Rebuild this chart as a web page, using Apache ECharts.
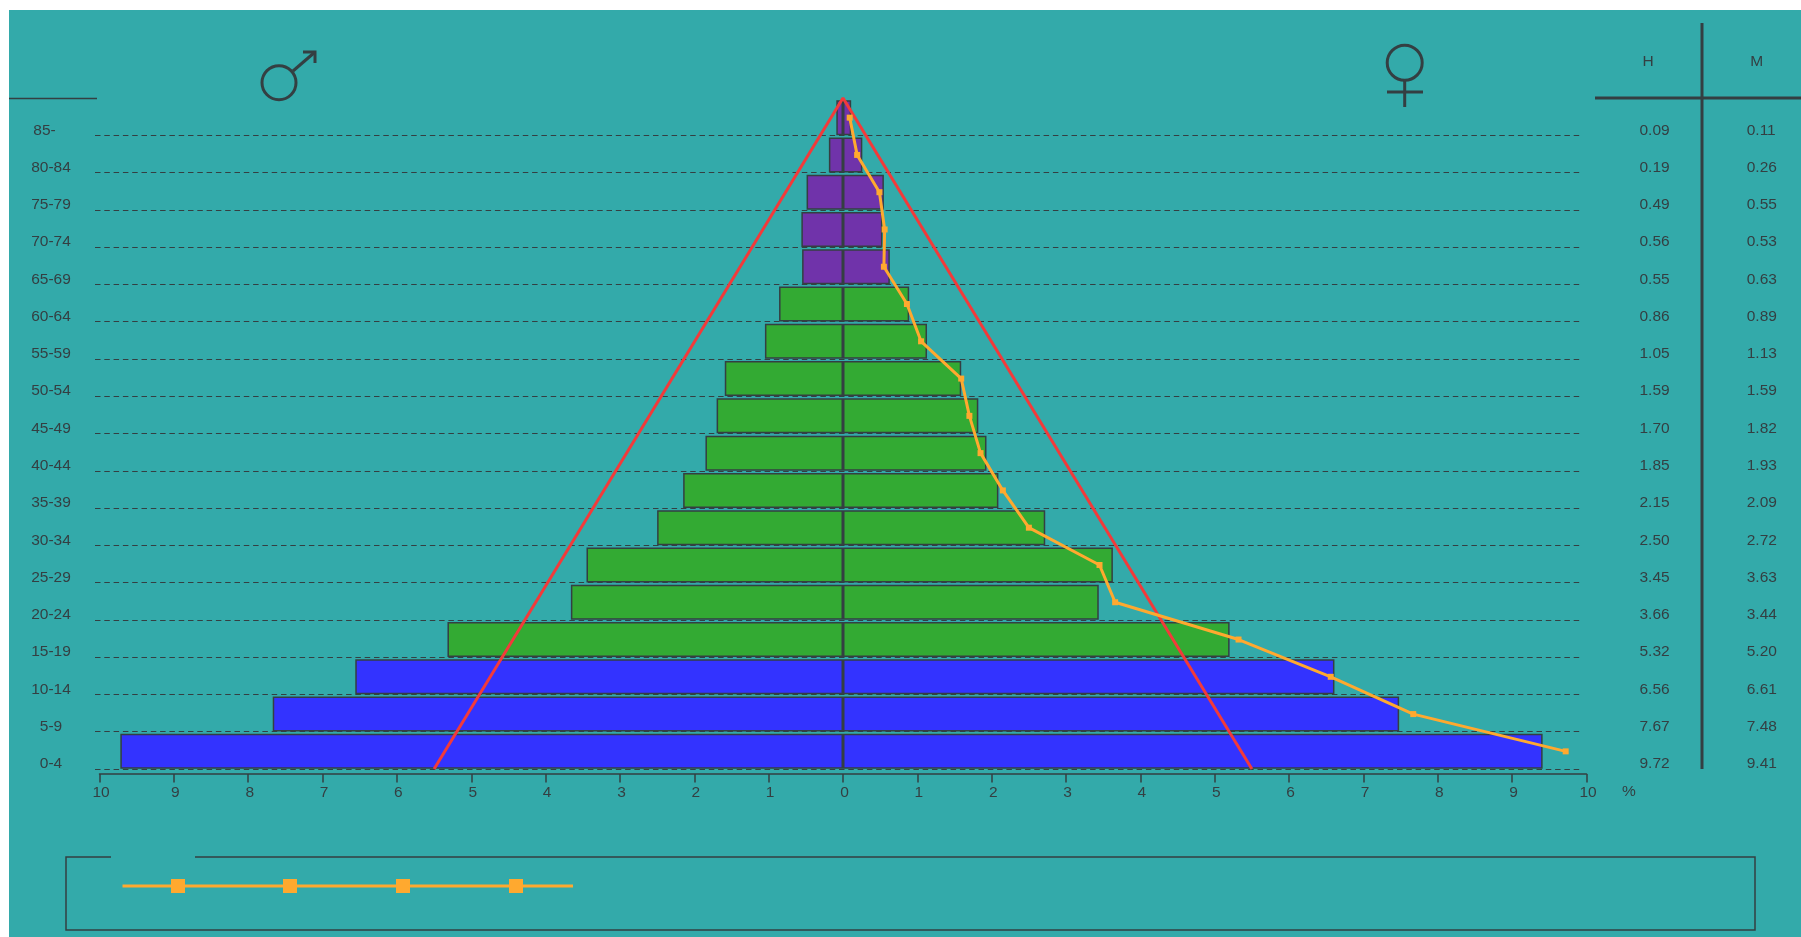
<!DOCTYPE html>
<html>
<head>
<meta charset="utf-8">
<style>
html,body{margin:0;padding:0;background:#fff;width:1801px;height:937px;overflow:hidden}
#bg{position:absolute;left:9px;top:10px;width:1792px;height:927px;background:#33aaaa}
#chart{position:absolute;left:0;top:0;width:1801px;height:937px}
</style>
<script src="https://cdn.jsdelivr.net/npm/echarts@6/dist/echarts.min.js"></script>
</head>
<body>
<div id="bg"></div>
<div id="chart"></div>
<script>
// Listed from the youngest band (bottom of the pyramid) to the oldest (top)
const ageBands = ['0-4','5-9','10-14','15-19','20-24','25-29','30-34','35-39','40-44','45-49','50-54','55-59','60-64','65-69','70-74','75-79','80-84','85-'];
const hombres = [9.72,7.67,6.56,5.32,3.66,3.45,2.50,2.15,1.85,1.70,1.59,1.05,0.86,0.55,0.56,0.49,0.19,0.09];
const mujeres = [9.41,7.48,6.61,5.20,3.44,3.63,2.72,2.09,1.93,1.82,1.59,1.13,0.89,0.63,0.53,0.55,0.26,0.11];
const ageGroup = [0,0,0,1,1,1,1,1,1,1,1,1,1,2,2,2,2,2];
const groupColors = ['#3333ff','#33aa33','#7033aa'];
const triangle = [[-5.5,0],[0,18],[5.5,0]];
const xTicks = {min:-10,max:10,interval:1};

const ink = '#343f42';
const fontSize = 15.5;
const font = '"Liberation Sans",Arial,sans-serif';
const barStyle = {
  borderColor: ink, borderWidth: 1.5,
  color: p => groupColors[ageGroup[p.dataIndex]]
};
const hiddenAxis = {show:false};
const textAxis = {axisLine:{show:false},axisTick:{show:false},splitLine:{show:false}};

const chart = echarts.init(document.getElementById('chart'), null, {renderer:'canvas'});
chart.setOption({
  animation:false,
  backgroundColor:'transparent',
  textStyle:{fontFamily:font},
  grid:[
    {left:99.5,width:1487,top:99,height:671},    // bars and the orange line
    {left:99.5,width:1487,top:98,height:671},    // red triangle
    {left:95,width:1487,top:98,height:671},      // dashed rows
    {left:101,width:1487,top:111.6,height:671}   // text columns and tick numbers
  ],
  xAxis:[
    {gridIndex:0,type:'value',...xTicks,position:'bottom',offset:4,
     splitLine:{show:false},
     axisLine:{show:true,lineStyle:{color:ink,width:1.5}},
     axisTick:{show:true,length:8.5,lineStyle:{color:ink,width:1.5}},
     axisLabel:{show:false}},
    {gridIndex:1,type:'value',...xTicks,...hiddenAxis},
    {gridIndex:2,type:'value',...xTicks,...hiddenAxis},
    {gridIndex:3,type:'value',...xTicks,position:'bottom',...textAxis,
     axisLabel:{color:ink,fontSize,fontFamily:font,margin:2,formatter:v=>String(Math.abs(v))}}
  ],
  yAxis:[
    {gridIndex:0,type:'category',data:ageBands,...hiddenAxis},
    {gridIndex:1,type:'value',min:0,max:18,...hiddenAxis},
    {gridIndex:2,type:'category',data:ageBands,z:0,
     axisLine:{show:false},axisTick:{show:false},axisLabel:{show:false},
     splitLine:{show:true,showMaxLine:false,lineStyle:{color:ink,width:1,type:[5.5,3.8]}}},
    {gridIndex:3,type:'category',data:ageBands,position:'left',...textAxis,
     axisLabel:{interval:0,color:ink,fontSize,fontFamily:font,align:'center',margin:50,
       formatter:v=>v==='85-'?v+'   ':v}},
    {gridIndex:3,type:'category',data:hombres.map(v=>v.toFixed(2)),position:'right',...textAxis,
     axisLabel:{interval:0,color:ink,fontSize,fontFamily:font,align:'left',margin:51.5}},
    {gridIndex:3,type:'category',data:mujeres.map(v=>v.toFixed(2)),position:'right',...textAxis,
     axisLabel:{interval:0,color:ink,fontSize,fontFamily:font,align:'left',margin:158.7}}
  ],
  series:[
    {name:'H',type:'bar',stack:'p',xAxisIndex:0,yAxisIndex:0,barWidth:35,z:2,
     data:hombres.map(v=>-v),itemStyle:barStyle},
    {name:'M',type:'bar',stack:'p',xAxisIndex:0,yAxisIndex:0,barWidth:35,z:2,
     data:mujeres,itemStyle:barStyle},
    {name:'triangle',type:'line',xAxisIndex:1,yAxisIndex:1,z:3,data:triangle,symbol:'none',
     lineStyle:{color:'#f23a3a',width:3}},
    {name:'H (reflejado)',type:'line',xAxisIndex:0,yAxisIndex:0,z:4,
     data:hombres.map((v,i)=>[v,ageBands[i]]),
     symbol:'rect',symbolSize:6,
     lineStyle:{color:'#ffa92f',width:3},itemStyle:{color:'#ffa92f'}}
  ],
  graphic:[
    // header rules
    {type:'line',shape:{x1:9,y1:98.5,x2:97,y2:98.5},style:{stroke:ink,lineWidth:1.5}},
    {type:'line',shape:{x1:1595,y1:98,x2:1801,y2:98},style:{stroke:ink,lineWidth:3}},
    {type:'line',shape:{x1:1702,y1:23,x2:1702,y2:769},style:{stroke:ink,lineWidth:3}},
    {type:'text',x:1648,y:62,style:{text:'H',fill:ink,font:fontSize+'px '+font,textAlign:'center',textVerticalAlign:'middle'}},
    {type:'text',x:1756.7,y:62,style:{text:'M',fill:ink,font:fontSize+'px '+font,textAlign:'center',textVerticalAlign:'middle'}},
    {type:'text',x:1629,y:792,style:{text:'%',fill:ink,font:fontSize+'px '+font,textAlign:'center',textVerticalAlign:'middle'}},
    // male sign
    {type:'circle',shape:{cx:279,cy:82.7,r:17},style:{fill:null,stroke:ink,lineWidth:3}},
    {type:'polyline',shape:{points:[[293,71],[315,52]]},style:{stroke:ink,lineWidth:3,fill:null}},
    {type:'polyline',shape:{points:[[303,52],[315,52],[315,63]]},style:{stroke:ink,lineWidth:3,fill:null}},
    // female sign
    {type:'circle',shape:{cx:1404.7,cy:62.7,r:17.5},style:{fill:null,stroke:ink,lineWidth:3}},
    {type:'line',shape:{x1:1404.7,y1:80,x2:1404.7,y2:107},style:{stroke:ink,lineWidth:3}},
    {type:'line',shape:{x1:1387,y1:92,x2:1423,y2:92},style:{stroke:ink,lineWidth:3}},
    // legend frame with its gap and the unlabelled sample
    {type:'polyline',shape:{points:[[111,857],[66,857],[66,930],[1755,930],[1755,857],[195,857]]},style:{fill:null,stroke:ink,lineWidth:1.5}},
    {type:'line',shape:{x1:122.5,y1:886,x2:573,y2:886},style:{stroke:'#ffa92f',lineWidth:3}},
    {type:'rect',shape:{x:171,y:879,width:14,height:14},style:{fill:'#ffa92f'}},
    {type:'rect',shape:{x:283,y:879,width:14,height:14},style:{fill:'#ffa92f'}},
    {type:'rect',shape:{x:396,y:879,width:14,height:14},style:{fill:'#ffa92f'}},
    {type:'rect',shape:{x:509,y:879,width:14,height:14},style:{fill:'#ffa92f'}}
  ]
});
</script>
</body>
</html>
